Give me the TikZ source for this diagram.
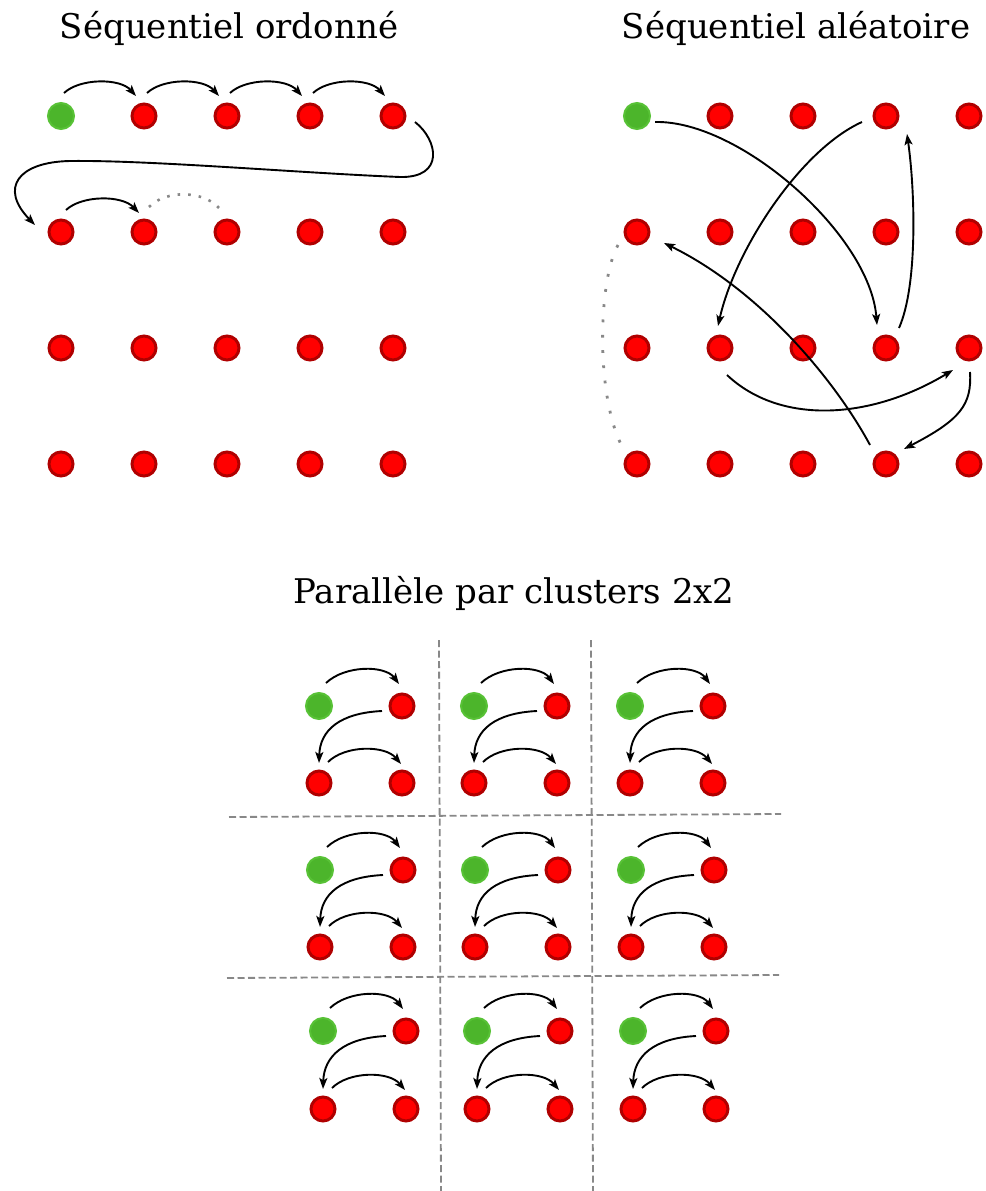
\documentclass[tikz,border=0pt]{standalone}
\usepackage{fontspec}
\setmainfont{DejaVu Serif}
\usetikzlibrary{calc,arrows.meta}
\definecolor{dotred}{HTML}{FF0000}
\definecolor{dotrim}{HTML}{B00000}
\definecolor{dotgreen}{HTML}{4CB52B}
\definecolor{greenrim}{HTML}{58C236}
\definecolor{sepgray}{HTML}{888888}
\tikzset{
  reddot/.style={circle,inner sep=0pt,minimum size=24pt,fill=dotred,draw=dotrim,line width=3pt},
  greendot/.style={circle,inner sep=0pt,minimum size=26pt,fill=dotgreen,draw=greenrim,line width=2pt},
  arr/.style={line width=1.9pt,-{Stealth[length=11pt,width=8pt,inset=2.5pt]}},
  dotsA/.style={sepgray,line width=2.6pt,dash pattern=on 2.6pt off 8pt},
  dotsB/.style={sepgray,line width=2.8pt,dash pattern=on 2.8pt off 12.5pt},
  sep/.style={sepgray,line width=1.8pt,dash pattern=on 7pt off 3.5pt},
  ttl/.style={anchor=base,inner sep=0pt,font=\fontsize{34}{41}\selectfont}
}
\begin{document}
\begin{tikzpicture}[x=1pt,y=-1pt]
\useasboundingbox (0,0) rectangle (985,1191);
% titles
\node[ttl] (t1) at (229,38) {Séquentiel ordonné};
\node[ttl] (t2) at (796,38) {Séquentiel aléatoire};
\node[ttl] (t3) at (514,603) {Parallèle par clusters 2x2};
% left grid
\foreach \c/\x in {1/61,2/144,3/227,4/310,5/393}{
  \foreach \r/\y in {1/116,2/232,3/348,4/464}{
    \ifnum\r\c=11
      \node[greendot] (L-\r-\c) at (\x,\y) {};
    \else
      \node[reddot] (L-\r-\c) at (\x,\y) {};
    \fi
  }
}
% right grid
\foreach \c/\x in {1/637,2/720,3/803,4/886,5/969}{
  \foreach \r/\y in {1/116,2/232,3/348,4/464}{
    \ifnum\r\c=11
      \node[greendot] (R-\r-\c) at (\x,\y) {};
    \else
      \node[reddot] (R-\r-\c) at (\x,\y) {};
    \fi
  }
}
% left arrows
\foreach \a/\b in {1/2,2/3,3/4,4/5}{
  \draw[arr] ($(L-1-\a)+(3,-23)$) .. controls ($(L-1-\a)+(19,-38)$) and ($(L-1-\b)+(-24,-38)$) .. ($(L-1-\b)+(-8,-20)$);
}
\draw[arr] ($(L-1-5)+(22,6)$) .. controls ($(L-1-5)+(45,24)$) and ($(L-1-5)+(52,62)$) .. ($(L-1-5)+(7,61)$)
  .. controls ($(L-1-5)+(-93,57)$) and ($(L-1-5)+(-243,44)$) .. ($(L-2-1)+(9,-71)$)
  .. controls ($(L-2-1)+(-43,-70)$) and ($(L-2-1)+(-62,-44)$) .. ($(L-2-1)+(-26,-7)$);
\draw[arr] ($(L-2-1)+(5,-22)$) .. controls ($(L-2-1)+(21,-37)$) and ($(L-2-2)+(-22,-37)$) .. ($(L-2-2)+(-5,-19)$);
\draw[dotsA] ($(L-2-2)+(5,-25)$) .. controls ($(L-2-2)+(21,-42)$) and ($(L-2-3)+(-24,-42)$) .. ($(L-2-3)+(-8,-24)$);
% right arrows
\draw[arr] ($(R-1-1)+(18,6)$) .. controls ($(R-1-1)+(103,4)$) and ($(R-3-4)+(-16,-113)$) .. ($(R-3-4)+(-9,-23)$);
\draw[arr] ($(R-1-4)+(-24,6)$) .. controls ($(R-1-4)+(-86,34)$) and ($(R-3-2)+(15,-98)$) .. ($(R-3-2)+(-2,-22)$);
\draw[arr] ($(R-3-4)+(13,-20)$) .. controls ($(R-3-4)+(32,-63)$) and ($(R-1-4)+(29,74)$) .. ($(R-1-4)+(21,18)$);
\draw[arr] ($(R-3-2)+(7,27)$) .. controls ($(R-3-2)+(60,77)$) and ($(R-3-5)+(-99,72)$) .. ($(R-3-5)+(-16,22)$);
\draw[arr] ($(R-3-5)+(1,24)$) .. controls ($(R-3-5)+(3,57)$) and ($(R-4-4)+(74,-44)$) .. ($(R-4-4)+(18,-15)$);
\draw[arr] ($(R-4-4)+(-16,-19)$) .. controls ($(R-4-4)+(-51,-84)$) and ($(R-2-1)+(123,58)$) .. ($(R-2-1)+(27,11)$);
\draw[dotsB] ($(R-2-1)+(-19,13)$) .. controls ($(R-2-1)+(-39,48)$) and ($(R-4-1)+(-42,-64)$) .. ($(R-4-1)+(-13,-14)$);
% separators
\coordinate (v1a) at (439,640); \coordinate (v1b) at (441,1191);
\coordinate (v2a) at (591,640); \coordinate (v2b) at (593,1191);
\coordinate (h1a) at (229,817); \coordinate (h1b) at (781,814);
\coordinate (h2a) at (227,978); \coordinate (h2b) at (779,975);
\draw[sep] (v1a) -- (v1b);
\draw[sep] (v2a) -- (v2b);
\draw[sep] (h1a) -- (h1b);
\draw[sep] (h2a) -- (h2b);
% clusters
\foreach \i/\gx/\gy/\dy in {1/319/706/77,2/474/706/77,3/630/706/77,4/320/870/77,5/475/870/77,6/631/870/77,7/323/1031/78,8/477/1031/78,9/633/1031/78}{
  \node[greendot] (G-\i) at (\gx,\gy) {};
  \node[reddot] (T-\i) at (\gx+83,\gy) {};
  \node[reddot] (B-\i) at (\gx,\gy+\dy) {};
  \node[reddot] (C-\i) at (\gx+83,\gy+\dy) {};
  \draw[arr] ($(G-\i)+(7,-23)$) .. controls ($(G-\i)+(26,-41)$) and ($(T-\i)+(-17,-41)$) .. ($(T-\i)+(-3,-22)$);
  \draw[arr] ($(T-\i)+(-20,5)$) .. controls ($(T-\i)+(-62,7)$) and ($(B-\i)+(1,-53)$) .. ($(B-\i)+(0,-20)$);
  \draw[arr] ($(B-\i)+(9,-21)$) .. controls ($(B-\i)+(26,-38)$) and ($(C-\i)+(-17,-38)$) .. ($(C-\i)+(-1,-19)$);
}
\end{tikzpicture}
\end{document}
